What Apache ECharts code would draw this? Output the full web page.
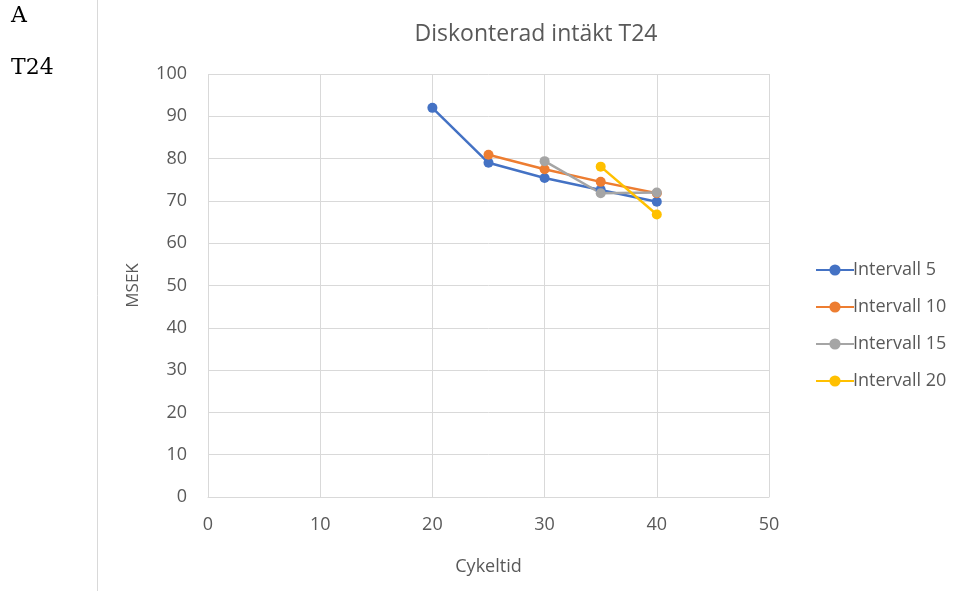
<!DOCTYPE html>
<html><head><meta charset="utf-8">
<script src="https://cdn.jsdelivr.net/npm/echarts@6/dist/echarts.min.js"></script>
<style>html,body{margin:0;padding:0;background:#fff}#c{width:963px;height:591px}</style>
</head><body><div id="c"></div>
<script>
const seriesNames = ['Intervall 5','Intervall 10','Intervall 15','Intervall 20'];
const colors = ['#4472c4','#ed7d31','#a5a5a5','#ffc000'];
const x5 = [20,25,30,35,40];
const y5 = [92.0,79.0,75.4,72.6,69.8];
const x10 = [25,30,35,40];
const y10 = [80.9,77.5,74.5,71.8];
const x15 = [30,35,40];
const y15 = [79.4,71.8,72.0];
const x20 = [35,40];
const y20 = [78.1,66.8];
const xs = [x5,x10,x15,x20];
const ys = [y5,y10,y15,y20];

const chart = echarts.init(document.getElementById('c'));
const font = "'Open Sans','Noto Sans',sans-serif";
chart.setOption({
  animation:false,
  backgroundColor:'#fff',
  title:{text:'Diskonterad intäkt T24',left:531,top:18,textAlign:'center',
    textStyle:{fontFamily:font,fontSize:23,fontWeight:'normal',color:'#595959'}},
  grid:{left:208,right:194,top:74,bottom:94},
  legend:{orient:'vertical',left:810,top:256,itemGap:19,itemWidth:38,itemHeight:14,
    data:seriesNames,
    textStyle:{fontFamily:font,fontSize:18,color:'#595959',padding:[0,0,0,-6]}},
  xAxis:{type:'value',min:0,max:50,interval:10,name:'Cykeltid',nameLocation:'middle',nameGap:61,
    nameTextStyle:{fontFamily:font,fontSize:18,color:'#595959'},
    axisLine:{show:true,lineStyle:{color:'#d9d9d9'}},axisTick:{show:false},
    axisLabel:{fontFamily:font,fontSize:18,color:'#595959',margin:19},
    splitLine:{show:true,lineStyle:{color:'#d9d9d9',width:1}}},
  yAxis:{type:'value',min:0,max:100,interval:10,name:'MSEK',nameLocation:'middle',nameGap:66,
    nameTextStyle:{fontFamily:font,fontSize:17,color:'#595959'},
    axisLine:{show:false},axisTick:{show:false},
    axisLabel:{fontFamily:font,fontSize:18,color:'#595959',margin:21},
    splitLine:{show:true,lineStyle:{color:'#d9d9d9',width:1}}},
  series:seriesNames.map((n,i)=>({
    name:n,type:'line',
    data:xs[i].map((x,j)=>[x,ys[i][j]]),
    symbol:'circle',symbolSize:10,
    itemStyle:{color:colors[i]},
    lineStyle:{color:colors[i],width:2.5}
  })),
  graphic:[
    {type:'line',shape:{x1:97.5,y1:0,x2:97.5,y2:591},style:{stroke:'#d9d9d9',lineWidth:1}},
    {type:'text',left:11,top:5,style:{text:'A',font:"22px 'DejaVu Serif', serif",fill:'#000'}},
    {type:'text',left:11,top:57,style:{text:'T24',font:"22px 'DejaVu Serif', serif",fill:'#000'}}
  ]
});
</script></body></html>
